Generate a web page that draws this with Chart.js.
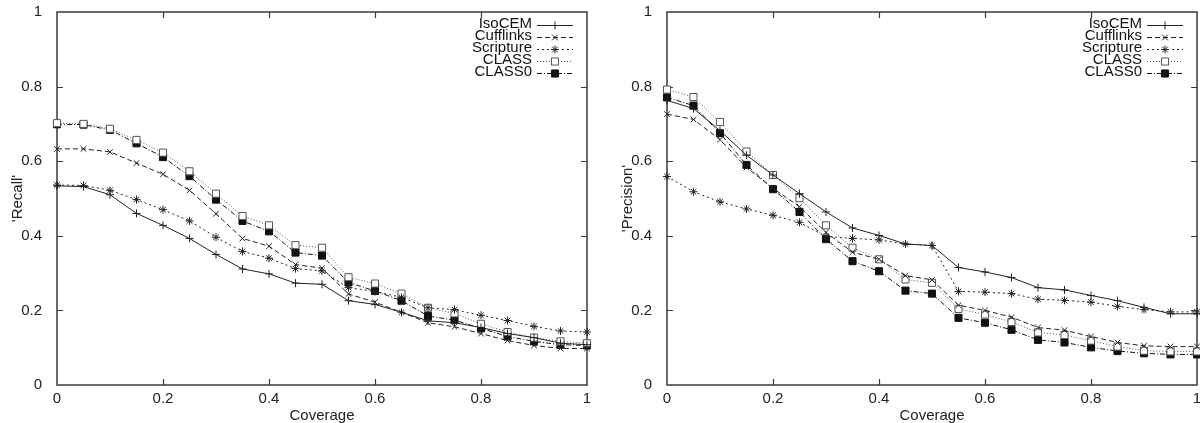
<!DOCTYPE html>
<html>
<head>
<meta charset="utf-8">
<script src="https://cdn.jsdelivr.net/npm/chart.js@4/dist/chart.umd.min.js"></script>
<style>
  html, body { margin: 0; padding: 0; background: #fff; overflow: hidden; }
  body { width: 1200px; height: 423px; position: relative; }
  .box { position: absolute; top: -4px; height: 427px; }
  #leftBox { left: 0; width: 600px; }
  #rightBox { left: 600px; width: 604px; }
</style>
</head>
<body>
<div class="box" id="leftBox"><canvas id="recallChart"></canvas></div>
<div class="box" id="rightBox"><canvas id="precisionChart"></canvas></div>
<script>
// Coverage values (x axis) and tick labels
const coverage = [0, 0.05, 0.1, 0.15, 0.2, 0.25, 0.3, 0.35, 0.4, 0.45, 0.5,
  0.55, 0.6, 0.65, 0.7, 0.75, 0.8, 0.85, 0.9, 0.95, 1];
const tickValues = [0, 0.2, 0.4, 0.6, 0.8, 1];
const tickLabels = ["0", "0.2", "0.4", "0.6", "0.8", "1"];
const seriesNames = ["IsoCEM", "Cufflinks", "Scripture", "CLASS", "CLASS0"];

// Recall panel
const recallIsoCEM = [0.534, 0.532, 0.510, 0.460, 0.428, 0.393, 0.350, 0.311, 0.298, 0.273, 0.270,
  0.226, 0.216, 0.195, 0.172, 0.167, 0.154, 0.138, 0.127, 0.112, 0.108];
const recallCufflinks = [0.633, 0.633, 0.625, 0.595, 0.565, 0.522, 0.459, 0.393, 0.372, 0.323, 0.313,
  0.244, 0.222, 0.195, 0.167, 0.156, 0.138, 0.119, 0.106, 0.098, 0.098];
const recallScripture = [0.536, 0.535, 0.522, 0.497, 0.470, 0.440, 0.396, 0.358, 0.340, 0.312, 0.306,
  0.261, 0.251, 0.235, 0.207, 0.202, 0.187, 0.173, 0.157, 0.145, 0.142];
const recallCLASS = [0.702, 0.700, 0.687, 0.657, 0.623, 0.573, 0.513, 0.453, 0.428, 0.375, 0.368,
  0.289, 0.272, 0.245, 0.207, 0.192, 0.164, 0.142, 0.127, 0.117, 0.112];
const recallCLASS0 = [0.699, 0.698, 0.684, 0.648, 0.611, 0.560, 0.497, 0.440, 0.412, 0.355, 0.347,
  0.275, 0.252, 0.226, 0.185, 0.174, 0.152, 0.130, 0.117, 0.108, 0.106];

// Precision panel
const precIsoCEM = [0.763, 0.741, 0.682, 0.616, 0.563, 0.513, 0.464, 0.421, 0.401, 0.378, 0.374,
  0.315, 0.303, 0.288, 0.261, 0.255, 0.240, 0.226, 0.208, 0.191, 0.191];
const precCufflinks = [0.726, 0.712, 0.658, 0.583, 0.527, 0.478, 0.409, 0.356, 0.337, 0.293, 0.282,
  0.214, 0.200, 0.182, 0.154, 0.147, 0.130, 0.114, 0.105, 0.103, 0.103];
const precScripture = [0.559, 0.518, 0.491, 0.472, 0.455, 0.436, 0.398, 0.393, 0.389, 0.378, 0.374,
  0.251, 0.249, 0.245, 0.230, 0.227, 0.222, 0.211, 0.202, 0.196, 0.196];
const precCLASS = [0.792, 0.772, 0.705, 0.626, 0.563, 0.501, 0.428, 0.368, 0.337, 0.283, 0.274,
  0.204, 0.189, 0.169, 0.141, 0.134, 0.119, 0.103, 0.092, 0.090, 0.090];
const precCLASS0 = [0.771, 0.749, 0.675, 0.590, 0.525, 0.464, 0.391, 0.332, 0.305, 0.253, 0.245,
  0.180, 0.167, 0.148, 0.121, 0.114, 0.101, 0.091, 0.085, 0.082, 0.082];

// line / marker look per series (gnuplot style)
const styles = [
  { color: "#222", dash: [], point: "cross", radius: 4, fill: "#222" },
  { color: "#222", dash: [5, 3], point: "crossRot", radius: 4, fill: "#222" },
  { color: "#222", dash: [2, 3], point: "star", radius: 4, fill: "#222" },
  { color: "#555", dash: [1, 2], point: "rect", radius: 5, fill: "#fff" },
  { color: "#111", dash: [5, 2, 1, 2], point: "rect", radius: 5, fill: "#111" }
];

Chart.defaults.font.family = '"Liberation Sans", Arial, sans-serif';
Chart.defaults.font.size = 15;
Chart.defaults.color = "#222";

// frame around plot + inward ticks on all four sides
const frameTicks = {
  id: "frameTicks",
  beforeDatasetsDraw(chart) {
    const { ctx, chartArea: a, scales } = chart;
    ctx.save();
    ctx.strokeStyle = "#3a3a3a";
    ctx.lineWidth = 1.5;
    ctx.strokeRect(a.left, a.top, a.right - a.left, a.bottom - a.top);
    ctx.lineWidth = 1.2;
    ctx.beginPath();
    scales.x.ticks.forEach(t => {
      if (t.value <= 0 || t.value >= 1) return;
      const px = Math.round(scales.x.getPixelForValue(t.value)) + 0.5;
      ctx.moveTo(px, a.bottom); ctx.lineTo(px, a.bottom - 6);
      ctx.moveTo(px, a.top); ctx.lineTo(px, a.top + 6);
    });
    scales.y.ticks.forEach(t => {
      if (t.value <= 0 || t.value >= 1) return;
      const py = Math.round(scales.y.getPixelForValue(t.value)) + 0.5;
      ctx.moveTo(a.left, py); ctx.lineTo(a.left + 6, py);
      ctx.moveTo(a.right, py); ctx.lineTo(a.right - 6, py);
    });
    ctx.stroke();
    ctx.restore();
  }
};

// key in the top right corner: label right aligned, then line sample with marker
const keyBox = {
  id: "keyBox",
  afterDraw(chart) {
    const { ctx, chartArea: a } = chart;
    ctx.save();
    ctx.font = '15px "Liberation Sans", Arial, sans-serif';
    ctx.textAlign = "right";
    ctx.textBaseline = "middle";
    chart.data.datasets.forEach((ds, i) => {
      const y = a.top + 13 + i * 12;
      ctx.fillStyle = "#111";
      ctx.fillText(ds.label, a.right - 55, y - 1);
      ctx.strokeStyle = ds.borderColor;
      ctx.lineWidth = 1;
      ctx.setLineDash(ds.borderDash);
      ctx.beginPath();
      ctx.moveTo(a.right - 50, y + 0.5);
      ctx.lineTo(a.right - 14, y + 0.5);
      ctx.stroke();
      ctx.setLineDash([]);
      ctx.fillStyle = ds.pointBackgroundColor;
      Chart.helpers.drawPoint(ctx, {
        pointStyle: ds.pointStyle, radius: ds.pointRadius, rotation: 0, borderWidth: 1
      }, a.right - 32, y + 0.5);
    });
    ctx.restore();
  }
};

function buildDatasets(values) {
  return values.map((vals, i) => ({
    label: seriesNames[i],
    data: coverage.map((c, k) => ({ x: c, y: vals[k] })),
    borderColor: styles[i].color,
    borderWidth: 1,
    borderDash: styles[i].dash,
    pointStyle: styles[i].point,
    pointRadius: styles[i].radius,
    pointBorderColor: styles[i].color,
    pointBackgroundColor: styles[i].fill,
    pointBorderWidth: 1,
    tension: 0,
    fill: false,
    clip: false
  }));
}

function tickText(value) {
  const idx = tickValues.findIndex(v => Math.abs(v - value) < 1e-9);
  return idx >= 0 ? tickLabels[idx] : "";
}

function makeChart(canvasId, yTitle, values, axisWidth, rightPad, titlePad) {
  const ctx = document.getElementById(canvasId).getContext("2d");
  return new Chart(ctx, {
    type: "line",
    data: { datasets: buildDatasets(values) },
    options: {
      responsive: true,
      maintainAspectRatio: false,
      animation: false,
      layout: { padding: { left: 0, right: rightPad, top: 10, bottom: 0 } },
      plugins: { legend: { display: false }, tooltip: { enabled: false } },
      scales: {
        x: {
          type: "linear",
          min: 0, max: 1,
          grid: { display: false },
          border: { display: false },
          afterBuildTicks: s => { s.ticks = tickValues.map(v => ({ value: v })); },
          ticks: { padding: -3, maxRotation: 0, color: "#222", callback: tickText },
          title: { display: true, text: "Coverage", color: "#222", padding: { top: 0, bottom: -2 } },
          afterFit: s => { s.height = 38; }
        },
        y: {
          min: 0, max: 1,
          grid: { display: false },
          border: { display: false },
          afterBuildTicks: s => { s.ticks = tickValues.map(v => ({ value: v })); },
          ticks: { padding: 7, color: "#222", callback: tickText },
          title: { display: true, text: yTitle, color: "#222", padding: { top: titlePad, bottom: 0 } },
          afterFit: s => { s.width = axisWidth; }
        }
      }
    },
    plugins: [frameTicks, keyBox]
  });
}

makeChart("recallChart", "'Recall'",
  [recallIsoCEM, recallCufflinks, recallScripture, recallCLASS, recallCLASS0], 57, 13, 9);
makeChart("precisionChart", "'Precision'",
  [precIsoCEM, precCufflinks, precScripture, precCLASS, precCLASS0], 67, 7, 19);
</script>
</body>
</html>
